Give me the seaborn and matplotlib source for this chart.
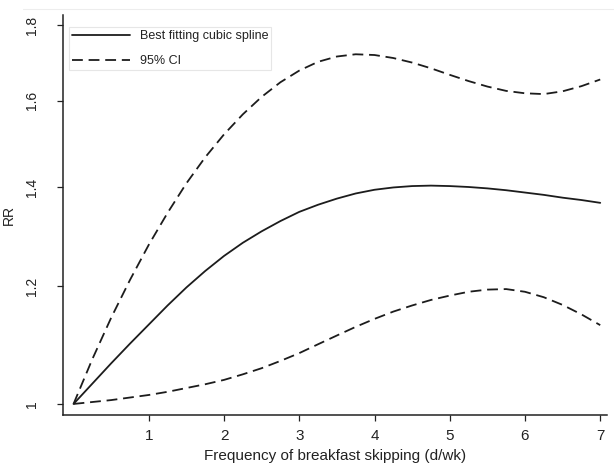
import numpy as np
import pandas as pd
import seaborn as sns
import matplotlib.pyplot as plt
from matplotlib.lines import Line2D
from matplotlib.ticker import FixedLocator, FixedFormatter, NullLocator

# values (RR vs days/week of breakfast skipping)
freq = [0, 0.25, 0.5, 0.75, 1, 1.25, 1.5, 1.75, 2, 2.25, 2.5, 2.75, 3, 3.25,
        3.5, 3.75, 4, 4.25, 4.5, 4.75, 5, 5.25, 5.5, 5.75, 6, 6.25, 6.5,
        6.75, 7]
rr_fit = [1.000, 1.032, 1.065, 1.098, 1.131, 1.165, 1.198, 1.229, 1.258,
          1.284, 1.307, 1.328, 1.347, 1.362, 1.375, 1.386, 1.394, 1.399,
          1.402, 1.403, 1.402, 1.400, 1.397, 1.393, 1.388, 1.383, 1.377,
          1.372, 1.366]
rr_upper = [1.000, 1.072, 1.143, 1.212, 1.280, 1.345, 1.408, 1.466, 1.519,
            1.567, 1.610, 1.647, 1.677, 1.700, 1.714, 1.720, 1.718, 1.710,
            1.698, 1.683, 1.666, 1.650, 1.636, 1.625, 1.619, 1.617, 1.624,
            1.637, 1.654]
rr_lower = [1.000, 1.003, 1.006, 1.010, 1.014, 1.019, 1.025, 1.031, 1.038,
            1.047, 1.057, 1.069, 1.082, 1.097, 1.112, 1.127, 1.141, 1.154,
            1.165, 1.175, 1.183, 1.190, 1.194, 1.195, 1.190, 1.180, 1.166,
            1.149, 1.130]

y_ticks = [1, 1.2, 1.4, 1.6, 1.8]
y_tick_labels = ['1', '1.2', '1.4', '1.6', '1.8']
x_ticks = [1, 2, 3, 4, 5, 6, 7]

sns.set_style('ticks')
plt.rcParams['font.family'] = ['Liberation Sans', 'DejaVu Sans']

df = pd.DataFrame({'freq': freq, 'fit': rr_fit, 'upper': rr_upper, 'lower': rr_lower})

fig = plt.figure(figsize=(6.14, 4.68), dpi=100)
ax = fig.add_axes([63 / 614, 53 / 468, 544 / 614, 400 / 468])

ink = '#1c1c1c'
dash = (0, (6, 3.2))
sns.lineplot(data=df, x='freq', y='fit', ax=ax, color=ink, lw=1.3,
             label='Best fitting cubic spline')
sns.lineplot(data=df, x='freq', y='upper', ax=ax, color=ink, lw=1.3,
             linestyle=dash, label='95% CI')
sns.lineplot(data=df, x='freq', y='lower', ax=ax, color=ink, lw=1.3,
             linestyle=dash, label='_nolegend_')

ax.set_yscale('log')
ax.set_xlim(-0.14, 7.09)
ax.set_ylim(0.983, 1.828)
ax.yaxis.set_major_locator(FixedLocator(y_ticks))
ax.yaxis.set_major_formatter(FixedFormatter(y_tick_labels))
ax.yaxis.set_minor_locator(NullLocator())
ax.set_xticks(x_ticks)

sns.despine(ax=ax)
for s in ['left', 'bottom']:
    ax.spines[s].set_linewidth(1.1)
    ax.spines[s].set_color('#222222')

ax.tick_params(axis='both', direction='out', length=4.3, width=0.9,
               color='#222222', labelcolor='#222222')
ax.tick_params(axis='x', labelsize=11, pad=6)
ax.tick_params(axis='y', labelsize=10, pad=13)
for lab in ax.get_yticklabels():
    lab.set_rotation(90)
    lab.set_va('center')

ax.set_xlabel('Frequency of breakfast skipping (d/wk)', fontsize=11,
              color='#222222', labelpad=4)
ax.set_ylabel('RR', fontsize=10, color='#222222')
ax.yaxis.set_label_coords(-0.086, 0.5)

leg = ax.legend(loc='upper left', bbox_to_anchor=(69 / 614, 1 - 27 / 468),
                bbox_transform=fig.transFigure, borderaxespad=0,
                fontsize=9, frameon=True, fancybox=False, framealpha=1,
                edgecolor='#e6e6e6', handlelength=4.6, handletextpad=0.8,
                labelspacing=1.05, borderpad=0.25)
leg.get_frame().set_linewidth(0.8)
for t in leg.get_texts():
    t.set_color('#222222')

fig.add_artist(Line2D([23 / 614, 1], [1 - 9 / 468, 1 - 9 / 468],
                      color='#ededed', lw=0.8))

fig.savefig('out.png', dpi=100)
